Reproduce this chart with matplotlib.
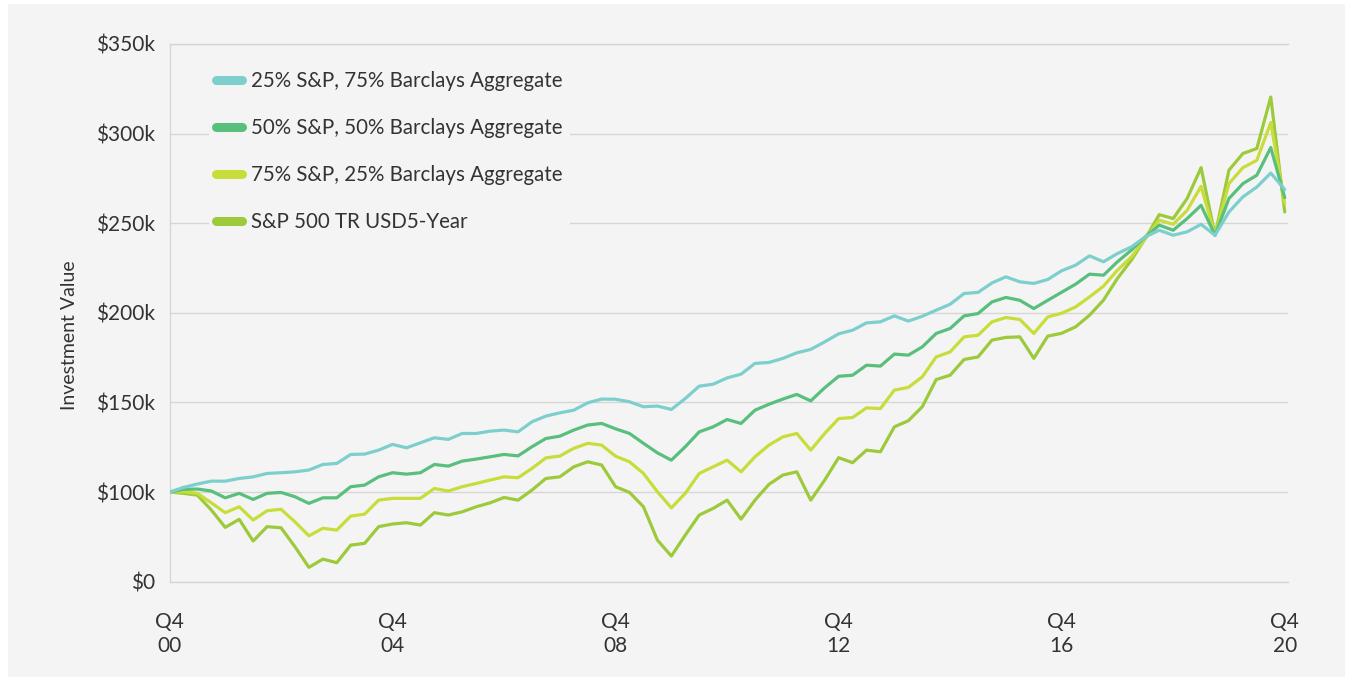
import matplotlib
matplotlib.use("Agg")
import matplotlib.pyplot as plt
from matplotlib.lines import Line2D
from matplotlib.patches import Rectangle

# ---------------- data (values in $ thousands, quarterly Q4 2000 .. Q4 2020) ----------------
series_names = [
    "25% S&P, 75% Barclays Aggregate",
    "50% S&P, 50% Barclays Aggregate",
    "75% S&P, 25% Barclays Aggregate",
    "S&P 500 TR USD5-Year",
]

sp25 = [100.0, 102.6, 104.5, 106.1, 106.1, 107.6, 108.5, 110.4, 110.8, 111.3, 112.3, 115.4, 116.0,
        121.0, 121.2, 123.4, 126.6, 124.7, 127.5, 130.3, 129.4, 132.7, 132.7, 134.0, 134.6, 133.6,
        139.2, 142.4, 144.2, 145.7, 149.8, 151.9, 151.8, 150.4, 147.6, 148.0, 146.1, 152.2, 159.1,
        160.2, 163.7, 165.8, 171.8, 172.3, 174.6, 177.7, 179.6, 183.8, 188.3, 190.3, 194.4, 195.0,
        198.3, 195.4, 198.1, 201.5, 204.8, 210.8, 211.4, 216.7, 220.1, 217.3, 216.4, 218.6, 223.5,
        226.6, 231.8, 228.5, 233.1, 236.8, 242.4, 246.1, 243.3, 245.2, 249.4, 243.3, 256.3, 264.7,
        270.2, 278.0, 268.8]

sp50 = [100.0, 101.5, 101.7, 100.6, 96.8, 99.3, 95.9, 99.3, 99.8, 97.4, 93.7, 96.8, 96.8,
        103.0, 103.9, 108.5, 110.8, 110.0, 110.8, 115.4, 114.5, 117.3, 118.4, 119.7, 121.0, 120.2,
        125.3, 129.9, 131.2, 134.6, 137.4, 138.3, 135.3, 132.7, 127.2, 121.9, 117.8, 125.3, 133.6,
        136.4, 140.5, 138.3, 145.7, 149.0, 151.9, 154.5, 150.9, 158.2, 164.6, 165.2, 170.8, 170.3,
        177.0, 176.4, 181.0, 188.5, 191.3, 198.3, 199.6, 206.1, 208.6, 207.0, 202.4, 207.0, 211.5,
        216.0, 221.6, 221.0, 228.5, 235.0, 242.4, 248.9, 246.1, 252.6, 260.0, 243.3, 263.8, 272.1,
        276.8, 292.2, 264.3]

sp75 = [100.0, 100.2, 99.3, 94.0, 88.5, 91.8, 84.4, 89.6, 90.4, 83.4, 75.6, 79.8, 78.8,
        86.6, 87.7, 95.5, 96.5, 96.5, 96.5, 102.0, 100.6, 103.0, 104.8, 106.7, 108.5, 108.0,
        113.2, 119.1, 120.1, 124.4, 127.2, 126.2, 120.0, 116.9, 110.4, 100.2, 91.2, 99.3, 110.4,
        114.1, 117.8, 111.3, 119.7, 126.2, 130.8, 132.7, 123.4, 132.7, 141.0, 141.6, 147.0, 146.6,
        156.9, 158.4, 164.3, 175.4, 178.2, 186.6, 187.5, 195.0, 197.4, 196.3, 188.5, 197.7, 199.8,
        203.3, 208.9, 214.9, 223.8, 231.2, 241.5, 251.7, 249.4, 257.2, 270.6, 243.3, 272.1, 281.0,
        285.1, 306.2, 261.0]

sp100 = [100.0, 99.3, 98.3, 90.0, 80.3, 84.8, 72.7, 80.7, 80.1, 69.5, 58.0, 62.6, 60.6,
         70.4, 71.4, 80.7, 82.2, 82.9, 81.6, 88.5, 87.2, 89.0, 91.8, 94.0, 97.0, 95.5,
         101.1, 107.6, 108.5, 114.1, 116.9, 115.1, 103.0, 99.8, 91.8, 73.2, 64.3, 76.0, 87.2,
         90.9, 95.5, 84.9, 95.5, 104.3, 109.5, 111.3, 95.5, 106.7, 119.2, 116.4, 123.4, 122.5,
         136.4, 139.8, 147.6, 162.8, 165.2, 174.0, 175.4, 184.8, 186.3, 186.6, 174.6, 187.0, 188.6,
         192.2, 198.7, 207.1, 219.2, 229.4, 241.5, 254.8, 252.6, 263.8, 281.0, 243.3, 279.6, 288.9,
         291.7, 320.4, 256.3]

x_tick_pos = [0, 16, 32, 48, 64, 80]
x_tick_labels = ["Q4\n00", "Q4\n04", "Q4\n08", "Q4\n12", "Q4\n16", "Q4\n20"]
y_tick_pos = [50, 100, 150, 200, 250, 300, 350]
y_tick_labels = ["$0", "$100k", "$150k", "$200k", "$250k", "$300k", "$350k"]

colors = ["#7ccfcd", "#58bf7c", "#c8dd3a", "#9cca3b"]
bg = "#f4f4f4"
text_color = "#333333"
grid_color = "#d6d6d6"

plt.rcParams["font.family"] = ["Lato", "DejaVu Sans"]

W, H = 1353, 684
fig = plt.figure(figsize=(W / 100, H / 100), dpi=100, facecolor="white")
fig.patches.append(Rectangle((8 / W, 7 / H), 1337 / W, 673 / H, transform=fig.transFigure,
                             facecolor=bg, edgecolor="none", zorder=-10))

left_px, right_px, top_px, bottom_px = 169.5, 1287.5, 44.0, 581.7
ax = fig.add_axes([left_px / W, 1 - bottom_px / H, (right_px - left_px) / W, (bottom_px - top_px) / H])
ax.set_facecolor("none")
ax.set_zorder(2)

xs = list(range(len(sp25)))
all_series = [sp25, sp50, sp75, sp100]
for vals, c in reversed(list(zip(all_series, colors))):
    ax.plot(xs, vals, color=c, lw=2.3, solid_joinstyle="round", solid_capstyle="round", zorder=3)

ax.set_xlim(0, 80.2)
ax.set_ylim(50, 350)
ax.set_yticks(y_tick_pos)
ax.set_yticklabels(y_tick_labels)
ax.set_xticks(x_tick_pos)
ax.set_xticklabels(x_tick_labels, linespacing=1.22)
ax.tick_params(axis="both", length=0, labelsize=15, colors=text_color)
ax.tick_params(axis="y", pad=10.5)
ax.tick_params(axis="x", pad=22)
for lab in ax.get_xticklabels():
    lab.set_horizontalalignment("center")

ax.yaxis.grid(True, color=grid_color, lw=1.0, zorder=1)
ax.set_axisbelow(True)
ax.spines["right"].set_visible(False)
for s in ["left", "top", "bottom"]:
    ax.spines[s].set_color(grid_color)
    ax.spines[s].set_linewidth(1.0)

ax.set_ylabel("Investment Value", fontsize=14, color=text_color)
ax.yaxis.set_label_coords(-0.082, 0.459)

handles = [Line2D([0], [0], color=c, lw=6.5, solid_capstyle="round") for c in colors]
leg = ax.legend(handles, series_names, loc="upper left",
                bbox_to_anchor=(209 / W, 1 - 64 / H), bbox_transform=fig.transFigure,
                frameon=True, facecolor=bg, edgecolor="none", framealpha=1,
                fontsize=14.8, handlelength=1.25, handletextpad=0.45, labelspacing=1.31,
                borderpad=0.35, borderaxespad=0)
for t in leg.get_texts():
    t.set_color(text_color)
leg.set_zorder(5)

fig.savefig("out.png", dpi=100, facecolor="white")
